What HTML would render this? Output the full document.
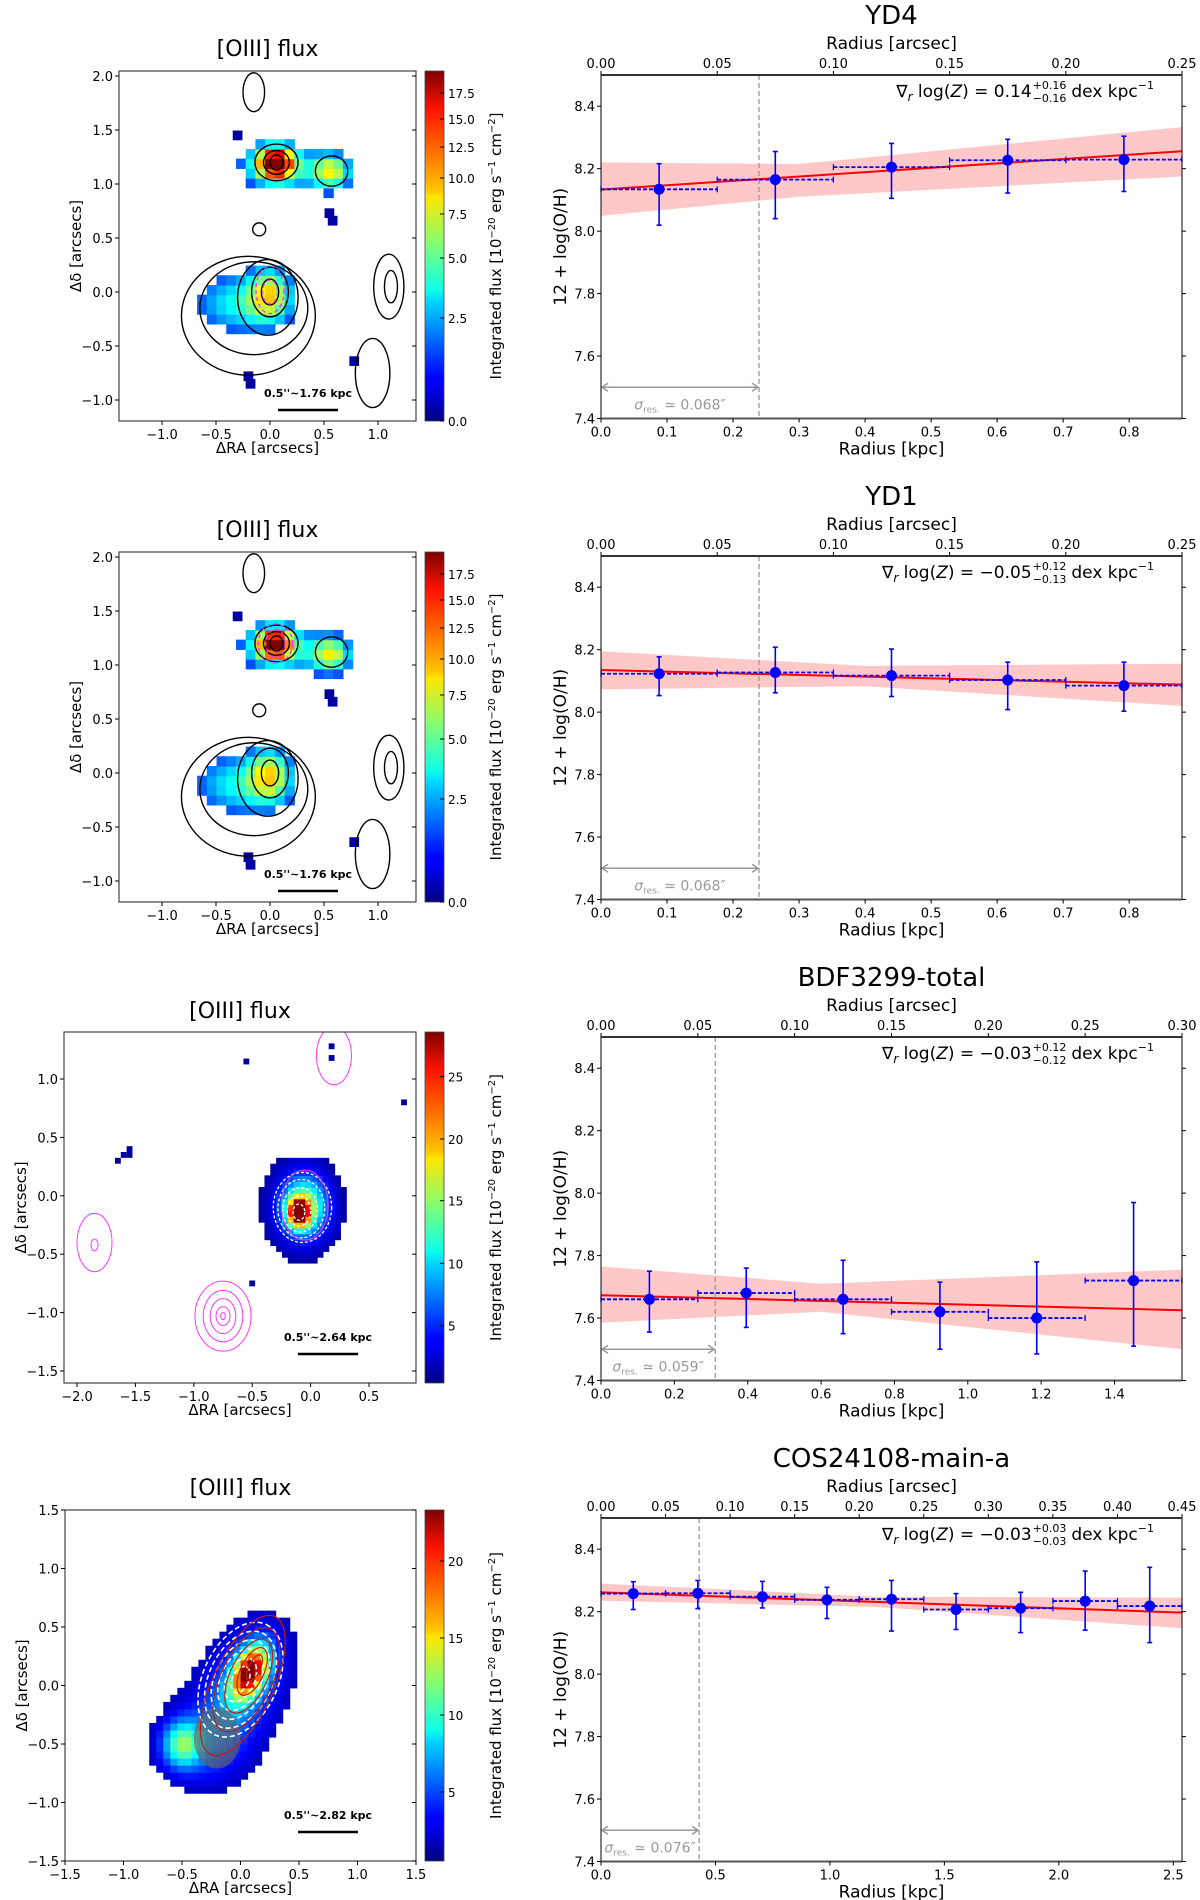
<!DOCTYPE html>
<html><head><meta charset="utf-8"><style>
html,body{margin:0;padding:0;background:#fff;}
svg{display:block;font-family:"DejaVu Sans","Liberation Sans",sans-serif;}
</style></head><body>
<svg id="fig" xmlns="http://www.w3.org/2000/svg" width="1200" height="1900" viewBox="0 0 1200 1900">
<defs>
<linearGradient id="jet" x1="0" y1="1" x2="0" y2="0">
<stop offset="0" stop-color="#00007f"/><stop offset="0.11" stop-color="#0000ff"/><stop offset="0.125" stop-color="#0000ff"/>
<stop offset="0.34" stop-color="#00d4ff"/><stop offset="0.375" stop-color="#0dffe9"/><stop offset="0.5" stop-color="#7dff7a"/>
<stop offset="0.64" stop-color="#ffe600"/><stop offset="0.66" stop-color="#ffc400"/><stop offset="0.89" stop-color="#ff1300"/><stop offset="1" stop-color="#7f0000"/>
</linearGradient>
</defs>
</svg>
<script>
// ---------- data: metallicity profiles ----------
const yd4_r=[0.088,0.264,0.44,0.616,0.792];
const yd4_oh=[8.134,8.165,8.205,8.227,8.229];
const yd4_lo=[8.019,8.040,8.105,8.122,8.127];
const yd4_hi=[8.216,8.255,8.281,8.294,8.304];
const yd4_fit=[8.133,8.256];
const yd4_bandR=[0,0.3,0.88];
const yd4_bandLo=[8.049,8.11,8.175];
const yd4_bandHi=[8.220,8.215,8.333];

const yd1_r=[0.088,0.264,0.44,0.616,0.792];
const yd1_oh=[8.123,8.127,8.117,8.103,8.085];
const yd1_lo=[8.053,8.062,8.050,8.008,8.003];
const yd1_hi=[8.177,8.208,8.202,8.160,8.160];
const yd1_fit=[8.135,8.088];
const yd1_bandR=[0,0.4,0.88];
const yd1_bandLo=[8.073,8.083,8.020];
const yd1_bandHi=[8.195,8.148,8.155];

const bdf_r=[0.132,0.396,0.66,0.924,1.188,1.452];
const bdf_oh=[7.66,7.68,7.66,7.62,7.60,7.72];
const bdf_lo=[7.555,7.57,7.55,7.50,7.485,7.51];
const bdf_hi=[7.75,7.76,7.785,7.715,7.78,7.97];
const bdf_fit=[7.673,7.625];
const bdf_bandR=[0,0.6,1.584];
const bdf_bandLo=[7.585,7.62,7.50];
const bdf_bandHi=[7.765,7.71,7.755];

const cos_r=[0.141,0.423,0.705,0.987,1.269,1.551,1.833,2.115,2.397];
const cos_oh=[8.258,8.259,8.248,8.238,8.240,8.207,8.211,8.234,8.218];
const cos_lo=[8.207,8.210,8.212,8.178,8.138,8.143,8.133,8.141,8.101];
const cos_hi=[8.296,8.300,8.297,8.278,8.300,8.258,8.262,8.330,8.342];
const cos_fit=[8.262,8.197];
const cos_bandR=[0,1.2,2.538];
const cos_bandLo=[8.235,8.215,8.147];
const cos_bandHi=[8.290,8.248,8.245];

const yTicks=[7.4,7.6,7.8,8.0,8.2,8.4];

const svg=document.getElementById('fig');
const NS='http://www.w3.org/2000/svg';
function mk(tag,attrs,parent){const e=document.createElementNS(NS,tag);for(const k in attrs)e.setAttribute(k,attrs[k]);(parent||svg).appendChild(e);return e;}
function txt(s,x,y,size,anchor,parent,extra){const e=mk('text',Object.assign({x:x,y:y,'font-size':size,'text-anchor':anchor||'middle','fill':'#000'},extra||{}),parent);e.textContent=s;return e;}

const ROWS=[0,481,962,1443];
const PL=601,PR=1182,PT=75,PB=418.5;

function profile(row,name,title,xmaxKpc,kpcPerArcsec,topTicks,botTicks,botFmt,sigmaArc,grad,gp,gm,r,oh,lo,hi,fit,bR,bLo,bHi,binW){
  const oy=ROWS[row];
  const g=mk('g',{transform:'translate(0,'+oy+')'});
  
  
  const X=v=>PL+v/xmaxKpc*(PR-PL);
  const Y=v=>PB-(v-7.4)/1.1*(PB-PT);
  const t=txt(title,(PL+PR)/2,24,26,'middle',g);
  
  
  let d='M'+bR.map((rr,i)=>X(rr)+','+Y(bHi[i])).join(' L');
  for(let i=bR.length-1;i>=0;i--)d+=' L'+X(bR[i])+','+Y(bLo[i]);
  const band=mk('path',{d:d+'Z',fill:'#ffc8c8',stroke:'none'},g);
  
  
  const fl=mk('line',{x1:X(0),y1:Y(fit[0]),x2:X(xmaxKpc),y2:Y(fit[1]),stroke:'#ff0000','stroke-width':2},g);
  
  
  const vx=X(sigmaArc*kpcPerArcsec);
  const vl=mk('line',{x1:vx,y1:PT,x2:vx,y2:PB,stroke:'#999','stroke-width':1.3,'stroke-dasharray':'5,3'},g);
  
  
  const ay=Y(7.5);
  const ar=mk('path',{d:'M'+(PL+1)+','+ay+' L'+(vx-1)+','+ay+' M'+(PL+7)+','+(ay-4)+' L'+(PL+1)+','+ay+' L'+(PL+7)+','+(ay+4)+' M'+(vx-7)+','+(ay-4)+' L'+(vx-1)+','+ay+' L'+(vx-7)+','+(ay+4),stroke:'#999','stroke-width':1.5,fill:'none'},g);
  
  
  const st=mk('text',{x:(PL+vx)/2,y:ay+22,'font-size':14,'text-anchor':'middle',fill:'#999'},g);
  st.innerHTML='<tspan font-style="italic">σ</tspan><tspan font-size="9" dy="3">res.</tspan><tspan dy="-3"> ≃ 0.0'+String(Math.round(sigmaArc*1000)).padStart(2,'0')+'″</tspan>';
  
  
  for(let i=0;i<r.length;i++){
    const pg=mk('g',{},g);
    
    
    const x=X(r[i]),y=Y(oh[i]),x1=X(r[i]-binW/2),x2=X(Math.min(r[i]+binW/2,xmaxKpc));
    mk('line',{x1:x1,y1:y,x2:x2,y2:y,stroke:'#0000ff','stroke-width':1.8,'stroke-dasharray':'4,2'},pg);
    mk('line',{x1:x1,y1:y-3,x2:x1,y2:y+3,stroke:'#0000ff','stroke-width':1.3},pg);
    if(r[i]+binW/2<=xmaxKpc)mk('line',{x1:x2,y1:y-3,x2:x2,y2:y+3,stroke:'#0000ff','stroke-width':1.3},pg);
    mk('line',{x1:x,y1:Y(lo[i]),x2:x,y2:Y(hi[i]),stroke:'#0000ff','stroke-width':1.6},pg);
    mk('line',{x1:x-2.5,y1:Y(lo[i]),x2:x+2.5,y2:Y(lo[i]),stroke:'#0000ff','stroke-width':1.6},pg);
    mk('line',{x1:x-2.5,y1:Y(hi[i]),x2:x+2.5,y2:Y(hi[i]),stroke:'#0000ff','stroke-width':1.6},pg);
    mk('circle',{cx:x,cy:y,r:5.5,fill:'#0000ff'},pg);
  }
  mk('rect',{x:PL,y:PT,width:PR-PL,height:PB-PT,fill:'none',stroke:'#000','stroke-width':1},g);
  mk('line',{x1:PL,y1:PT,x2:PR,y2:PT,stroke:'#333','stroke-width':2},g);
  mk('line',{x1:PL,y1:PB,x2:PR,y2:PB,stroke:'#555','stroke-width':2},g);
  yTicks.forEach(v=>{
    mk('line',{x1:PL-4,y1:Y(v),x2:PL,y2:Y(v),stroke:'#000'},g);
    mk('line',{x1:PR,y1:Y(v),x2:PR+4,y2:Y(v),stroke:'#000'},g);
    txt(v.toFixed(1),PL-6,Y(v)+5,13,'end',g);
  });
  botTicks.forEach(v=>{
    mk('line',{x1:X(v),y1:PB,x2:X(v),y2:PB+4,stroke:'#000'},g);
    txt(v.toFixed(botFmt),X(v),PB+18,13,'middle',g);
  });
  topTicks.forEach(v=>{
    mk('line',{x1:X(v*kpcPerArcsec),y1:PT-4,x2:X(v*kpcPerArcsec),y2:PT,stroke:'#000'},g);
    txt(v.toFixed(2),X(v*kpcPerArcsec),PT-7,13,'middle',g);
  });
  const xl=txt('Radius [kpc]',(PL+PR)/2,PB+36,17,'middle',g);
  
  
  const tl=txt('Radius [arcsec]',(PL+PR)/2,49,17,'middle',g);
  
  
  const yl=txt('12 + log(O/H)',0,0,17,'middle',g,{transform:'translate(566,'+((PT+PB)/2)+') rotate(-90)'});
  
  
  const fg=mk('g',{},g);
  
  
  const fy=97;
  const a=mk('text',{x:0,y:fy,'font-size':17},fg);
  a.innerHTML='∇<tspan font-style="italic" font-size="12" dy="4">r</tspan><tspan dy="-4"> log(</tspan><tspan font-style="italic">Z</tspan>) = '+grad;
  const w1=a.getComputedTextLength();
  const sp=txt(gp,w1+1,fy-8,11,'start',fg);const sm=txt(gm,w1+1,fy+5,11,'start',fg);
  const w2=Math.max(sp.getComputedTextLength(),sm.getComputedTextLength());
  const b=mk('text',{x:w1+w2+6,y:fy,'font-size':17},fg);
  b.innerHTML='dex kpc<tspan font-size="11" dy="-8">−1</tspan>';
  const total=w1+w2+6+b.getComputedTextLength();
  fg.setAttribute('transform','translate('+(1154-total)+',0)');
}

profile(0,'yd4','YD4',0.88,3.52,[0,0.05,0.10,0.15,0.20,0.25],[0,0.1,0.2,0.3,0.4,0.5,0.6,0.7,0.8],1,0.068,'0.14','+0.16','−0.16',yd4_r,yd4_oh,yd4_lo,yd4_hi,yd4_fit,yd4_bandR,yd4_bandLo,yd4_bandHi,0.176);
profile(1,'yd1','YD1',0.88,3.52,[0,0.05,0.10,0.15,0.20,0.25],[0,0.1,0.2,0.3,0.4,0.5,0.6,0.7,0.8],1,0.068,'−0.05','+0.12','−0.13',yd1_r,yd1_oh,yd1_lo,yd1_hi,yd1_fit,yd1_bandR,yd1_bandLo,yd1_bandHi,0.176);
profile(2,'bdf3299','BDF3299-total',1.584,5.28,[0,0.05,0.10,0.15,0.20,0.25,0.30],[0,0.2,0.4,0.6,0.8,1.0,1.2,1.4],1,0.059,'−0.03','+0.12','−0.12',bdf_r,bdf_oh,bdf_lo,bdf_hi,bdf_fit,bdf_bandR,bdf_bandLo,bdf_bandHi,0.264);
profile(3,'cos24108','COS24108-main-a',2.538,5.64,[0,0.05,0.10,0.15,0.20,0.25,0.30,0.35,0.40,0.45],[0,0.5,1.0,1.5,2.0,2.5],1,0.076,'−0.03','+0.03','−0.03',cos_r,cos_oh,cos_lo,cos_hi,cos_fit,cos_bandR,cos_bandLo,cos_bandHi,0.282);

// ---------- maps ----------
function jet(t){t=Math.max(0,Math.min(1,t));const c=v=>Math.round(255*Math.max(0,Math.min(1,v)));
  return 'rgb('+c(1.5-Math.abs(4*t-3))+','+c(1.5-Math.abs(4*t-2))+','+c(1.5-Math.abs(4*t-1))+')';}

function flux(row,name,cfg){
  const oy=ROWS[row];
  const g=mk('g',{transform:'translate(0,'+oy+')'});
  
  
  const {L,R,T,B,x0,y0,s}=cfg;
  const X=a=>x0+a*s, Y=a=>y0-a*s;
  const clip='clip'+row;
  const cp=mk('clipPath',{id:clip},g);mk('rect',{x:L,y:T,width:R-L,height:B-T},cp);
  const inner=mk('g',{'clip-path':'url(#'+clip+')'},g);
  const p=cfg.pix;
  for(let ax=cfg.ext[0];ax<=cfg.ext[1];ax+=p){for(let ay=cfg.ext[2];ay<=cfg.ext[3];ay+=p){
    let v=0;cfg.blobs.forEach(bl=>{const ca=Math.cos(bl[5]),sa=Math.sin(bl[5]);const dx=ax-bl[0],dy=ay-bl[1];
      const u=dx*ca+dy*sa,w=-dx*sa+dy*ca;v+=bl[2]*Math.exp(-0.5*(u*u/(bl[3]*bl[3])+w*w/(bl[4]*bl[4])));});
    if(v>cfg.thr)mk('rect',{x:X(ax-p/2),y:Y(ay+p/2),width:p*s+0.6,height:p*s+0.6,fill:jet(v)},inner);
  }}
  (cfg.dots||[]).forEach(d=>mk('rect',{x:X(d[0]-p/2),y:Y(d[1]+p/2),width:p*s,height:p*s,fill:'#0000a0'},inner));
  (cfg.circ||[]).forEach(c=>mk('ellipse',{cx:X(c[0]),cy:Y(c[1]),rx:c[2]*s,ry:c[3]*s,fill:'#666','fill-opacity':0.65},inner));
  (cfg.cont||[]).forEach(c=>{mk('ellipse',{cx:X(c[0]),cy:Y(c[1]),rx:c[2]*s,ry:c[3]*s,transform:'rotate('+(-(c[4]||0))+' '+X(c[0])+' '+Y(c[1])+')',fill:'none',stroke:c[5],'stroke-width':c[6]||1.4,'stroke-dasharray':c[7]||'none'},inner);});
  mk('rect',{x:L,y:T,width:R-L,height:B-T,fill:'none',stroke:'#444','stroke-width':1.2},g);
  cfg.xt.forEach(v=>{mk('line',{x1:X(v),y1:B,x2:X(v),y2:B+4,stroke:'#000'},g);txt(v.toFixed(1).replace('-','−'),X(v),B+18,13,'middle',g);});
  cfg.yt.forEach(v=>{mk('line',{x1:L-4,y1:Y(v),x2:L,y2:Y(v),stroke:'#000'},g);mk('line',{x1:R-4,y1:Y(v),x2:R,y2:Y(v),stroke:'#000'},g);txt(v.toFixed(1).replace('-','−'),L-6,Y(v)+5,13,'end',g);});
  const sb=mk('g',{},g);
  
  
  txt(cfg.sbText,cfg.sb[0],cfg.sb[1],11,'middle',sb,{'font-weight':'bold'});
  mk('line',{x1:cfg.sb[0]-30,y1:cfg.sb[1]+13,x2:cfg.sb[0]+30,y2:cfg.sb[1]+13,stroke:'#000','stroke-width':2.5},sb);
  const cb=mk('g',{},g);
  
  
  mk('rect',{x:425,y:T,width:19,height:B-T,fill:'url(#jet)',stroke:'#444','stroke-width':0.8},cb);
  cfg.cbt.forEach((v,i)=>{const yy=cfg.cbp[i];mk('line',{x1:440,y1:yy,x2:444,y2:yy,stroke:'#000'},cb);txt(v,448,yy+5,12,'start',cb);});
  const cl=mk('text',{x:0,y:0,'font-size':15,'text-anchor':'middle',transform:'translate(501,'+((T+B)/2)+') rotate(-90)'},g);
  cl.innerHTML='Integrated flux [10<tspan font-size="10" dy="-6">−20</tspan><tspan dy="6"> erg s</tspan><tspan font-size="10" dy="-6">−1</tspan><tspan dy="6"> cm</tspan><tspan font-size="10" dy="-6">−2</tspan><tspan dy="6">]</tspan>';
  
  
  const tt=txt('[OIII] flux',(L+R)/2,cfg.titleY,22,'middle',g);
  
  
  const xl=txt('ΔRA [arcsecs]',(L+R)/2,B+32,15,'middle',g);
  
  
  const yl=txt('Δδ [arcsecs]',0,0,15,'middle',g,{transform:'translate('+(L-38)+','+((T+B)/2)+') rotate(-90)'});
  
  
}
const K='#000',M='#ff33ff',W='#ffffff',DR='#c0200a';
const mapA={L:119,R:416,T:71,B:421,x0:270,y0:292,s:108,pix:0.09,ext:[-0.9,0.8,-0.7,1.5],thr:0.2,titleY:56,
  blobs:[[0.06,1.2,0.62,0.1,0.09,0],[0.02,1.2,0.45,0.2,0.15,0],[0.57,1.12,0.5,0.13,0.12,0],[0.25,1.12,0.2,0.35,0.18,0],[0,0,0.4,0.13,0.18,0],[-0.25,-0.1,0.4,0.36,0.22,0]],
  dots:[[-0.3,1.45],[0.55,0.73],[0.58,0.66],[-0.2,-0.78],[-0.18,-0.85],[0.78,-0.64]],
  cont:[[0.06,1.2,0.06,0.07,0,K],[0.06,1.2,0.12,0.11,0,K],[0.06,1.2,0.2,0.17,0,K],[0.57,1.12,0.15,0.14,0,K],
    [0,0,0.08,0.12,0,K],[0,0,0.17,0.23,0,K],[-0.02,-0.05,0.28,0.35,0,K],[-0.15,-0.15,0.5,0.43,0,K],[-0.2,-0.22,0.62,0.55,0,K],
    [1.1,0.05,0.14,0.3,0,K],[1.12,0.05,0.06,0.15,0,K],[0.95,-0.75,0.16,0.32,0,K],[-0.15,1.85,0.1,0.18,0,K],[-0.1,0.58,0.06,0.06,0,K],
    [0,0,0.07,0.11,0,M,1.4,'4,3'],[0,0.02,0.13,0.22,0,M,1.4,'4,3']],
  xt:[-1.0,-0.5,0,0.5,1.0],yt:[2.0,1.5,1.0,0.5,0,-0.5,-1.0],sb:[308,397],sbText:"0.5''~1.76 kpc",
  cbt:['0.0','2.5','5.0','7.5','10.0','12.5','15.0','17.5'],cbp:[421,318,258,214,178,147,119,93]};
flux(0,'yd4',mapA);
const mapB=Object.assign({},mapA,{blobs:[[0.05,1.2,0.65,0.09,0.08,0],[0.02,1.2,0.45,0.2,0.15,0],[0.57,1.1,0.5,0.13,0.12,0],[0.25,1.12,0.2,0.35,0.18,0],[0,0,0.4,0.13,0.18,0],[-0.25,-0.1,0.4,0.36,0.22,0]],
  cont:mapA.cont.slice(0,14).concat([[0.05,1.2,0.09,0.13,0,M,1.4,'4,3'],[0.05,1.2,0.16,0.18,0,M,1.4,'4,3']])});
flux(1,'yd1',mapB);
flux(2,'bdf3299',{L:64,R:416,T:70,B:421,x0:310.6,y0:233.8,s:116.8,pix:0.05,ext:[-0.42,0.3,-0.55,0.3],thr:0.035,titleY:56,
  blobs:[[-0.1,-0.14,0.95,0.06,0.08,0],[-0.05,-0.08,0.4,0.13,0.17,0],[-0.08,-0.1,0.15,0.2,0.26,0]],
  dots:[[-0.55,1.15],[0.18,1.28],[0.18,1.18],[0.8,0.8],[-1.55,0.4],[-1.6,0.35],[-1.55,0.35],[-1.65,0.3],[-0.5,-0.75]],
  cont:[[-0.1,-0.14,0.05,0.07,0,W,1.3,'3,2'],[-0.1,-0.13,0.1,0.13,0,W,1.3,'3,2'],[-0.09,-0.12,0.15,0.19,0,W,1.3,'3,2'],[-0.08,-0.11,0.2,0.25,0,W,1.3,'3,2'],[-0.07,-0.1,0.25,0.3,0,W,1.3,'3,2'],
    [-0.05,-0.08,0.2,0.3,0,M,1],[-1.85,-0.4,0.15,0.25,0,M,1],[-1.85,-0.42,0.03,0.05,0,M,1],
    [-0.75,-1.03,0.24,0.3,0,M,1],[-0.75,-1.03,0.17,0.22,0,M,1],[-0.75,-1.03,0.11,0.15,0,M,1],[-0.75,-1.03,0.06,0.08,0,M,1],[-0.75,-1.03,0.02,0.03,0,M,1],
    [0.2,1.2,0.15,0.25,0,M,1]],
  xt:[-2.0,-1.5,-1.0,-0.5,0,0.5],yt:[1.0,0.5,0,-0.5,-1.0,-1.5],sb:[328,1341-962],sbText:"0.5''~2.64 kpc",
  cbt:['5','10','15','20','25'],cbp:[363.7,301.3,238.7,177,114.7]});
flux(3,'cos24108',{L:65,R:416,T:67,B:418,x0:240.5,y0:242.5,s:117,pix:0.06,ext:[-0.75,0.6,-0.95,0.65],thr:0.06,titleY:52,
  blobs:[[0.08,0.12,0.85,0.16,0.09,1.15],[0.02,0.0,0.22,0.36,0.2,1.15],[-0.5,-0.5,0.4,0.12,0.14,0],[-0.3,-0.5,0.12,0.25,0.25,0.8],[-0.05,-0.15,0.06,0.6,0.4,1.15]],
  circ:[[-0.2,-0.45,0.2,0.26]],
  cont:[[0.0,0.05,0.12,0.07,65,W,1.6,'5,3'],[0.0,0.05,0.2,0.12,65,W,1.6,'5,3'],[0.0,0.05,0.28,0.17,65,W,1.6,'5,3'],[0.0,0.05,0.36,0.22,65,W,1.6,'5,3'],[0.0,0.05,0.44,0.27,65,W,1.6,'5,3'],[0.0,0.05,0.52,0.32,65,W,1.6,'5,3'],
    [0.12,0.15,0.12,0.05,65,DR,1.2],[0.1,0.12,0.22,0.1,65,DR,1.2],[0.07,0.08,0.34,0.16,65,DR,1.2],[0.05,0.05,0.48,0.22,65,DR,1.2],[0.02,0.0,0.65,0.26,65,DR,1.2]],
  xt:[-1.5,-1.0,-0.5,0,0.5,1.0,1.5],yt:[1.5,1.0,0.5,0,-0.5,-1.0,-1.5],sb:[328,1819-1443],sbText:"0.5''~2.82 kpc",
  cbt:['5','10','15','20'],cbp:[349,272,195,118]});
</script>
</body></html>
